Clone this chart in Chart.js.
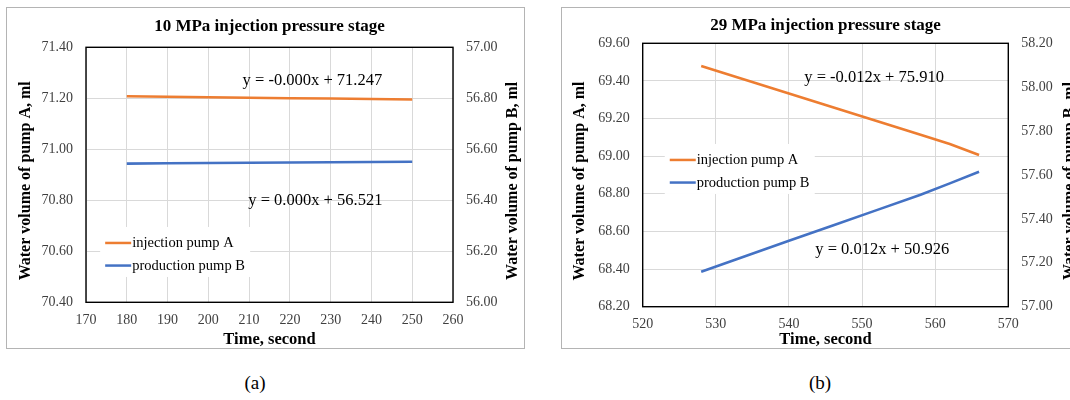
<!DOCTYPE html>
<html>
<head>
<meta charset="utf-8">
<title>Pump water volume during injection pressure stages</title>
<script src="https://cdn.jsdelivr.net/npm/chart.js@4.4.1/dist/chart.umd.min.js"></script>
<style>
  html, body { margin: 0; padding: 0; background: #fff; width: 1070px; height: 400px; overflow: hidden; position: relative; }
  .panel { position: absolute; top: 7px; height: 340px; border: 1px solid #b4b4b4; background: #fff; overflow: hidden; }
  #panelA { left: 6px; width: 517px; }
  #panelB { left: 561px; width: 530px; }
  .panel canvas { display: block; }
  .cap { position: absolute; top: 372px; width: 60px; text-align: center;
         font: 19px 'Liberation Serif', 'Times New Roman', serif; color: #000; }
</style>
</head>
<body>
<div class="panel" id="panelA"><canvas id="chartA" width="517" height="340"></canvas></div>
<div class="panel" id="panelB"><canvas id="chartB" width="530" height="340"></canvas></div>
<div class="cap" style="left:225px">(a)</div>
<div class="cap" style="left:790px">(b)</div>

<script>
// ---- data -------------------------------------------------------------
const seriesNames = ['injection pump A', 'production pump B'];
const stageTitles = ['10 MPa injection pressure stage', '29 MPa injection pressure stage'];
const axisTitleA = 'Water volume of pump A, ml';
const axisTitleB = 'Water volume of pump B, ml';
const axisTitleTime = 'Time, second';

// 10 MPa stage
const time10 = [180, 190, 200, 210, 220, 230, 240, 250];
const pumpA10 = [71.208, 71.206, 71.204, 71.202, 71.200, 71.199, 71.197, 71.195];
const pumpB10 = [56.544, 56.545, 56.546, 56.547, 56.548, 56.549, 56.550, 56.551];
const fit10 = ['y = -0.000x + 71.247', 'y = 0.000x + 56.521'];
const timeTicks10 = [170, 180, 190, 200, 210, 220, 230, 240, 250, 260];
const volATicks10 = [70.40, 70.60, 70.80, 71.00, 71.20, 71.40];
const volBTicks10 = [56.00, 56.20, 56.40, 56.60, 56.80, 57.00];

// 29 MPa stage
const time29 = [528, 534, 540, 546, 552, 558, 562, 566];
const pumpA29 = [69.479, 69.406, 69.333, 69.260, 69.187, 69.114, 69.065, 69.006];
const pumpB29 = [57.159, 57.230, 57.300, 57.370, 57.440, 57.510, 57.562, 57.615];
const fit29 = ['y = -0.012x + 75.910', 'y = 0.012x + 50.926'];
const timeTicks29 = [520, 530, 540, 550, 560, 570];
const volATicks29 = [68.20, 68.40, 68.60, 68.80, 69.00, 69.20, 69.40, 69.60];
const volBTicks29 = [57.00, 57.20, 57.40, 57.60, 57.80, 58.00, 58.20];

// ---- styling ----------------------------------------------------------
const SERIF = "'Liberation Serif', 'Times New Roman', serif";
const ORANGE = '#ED7D31';
const BLUE = '#4472C4';
const GRID = '#d9d9d9';
const TICK_COLOR = '#3f3f3f';

const pairs = (xs, ys) => xs.map((x, i) => ({ x, y: ys[i] }));
const fixedTicks = list => scale => { scale.ticks = list.map(v => ({ value: v })); };

// Frame, titles, legend and trend-line equations drawn on top of the plot
const stageDecor = {
  id: 'stageDecor',
  afterDatasetsDraw(chart, args, o) {
    const { ctx, scales } = chart;
    const lx = scales.x.getPixelForValue(o.legend.x);
    const ly = scales.y.getPixelForValue(o.legend.y);
    ctx.save();
    ctx.fillStyle = '#fff';
    ctx.fillRect(lx - 5, ly - 16, 150, 50);
    ctx.font = `14.5px ${SERIF}`;
    ctx.textAlign = 'left';
    ctx.textBaseline = 'middle';
    chart.data.datasets.forEach((ds, i) => {
      const yy = ly + i * 22.6;
      ctx.strokeStyle = ds.borderColor;
      ctx.lineWidth = 2.5;
      ctx.beginPath();
      ctx.moveTo(lx, yy);
      ctx.lineTo(lx + 26, yy);
      ctx.stroke();
      ctx.fillStyle = '#000';
      ctx.fillText(ds.label, lx + 27, yy + 0.5);
    });
    ctx.restore();
  },
  afterDraw(chart, args, o) {
    const { ctx, chartArea: ca, scales } = chart;
    ctx.save();
    // plot frame
    ctx.strokeStyle = '#000';
    ctx.lineWidth = 1.4;
    ctx.strokeRect(ca.left, ca.top, ca.right - ca.left, ca.bottom - ca.top);

    ctx.fillStyle = '#000';
    ctx.textAlign = 'center';
    ctx.textBaseline = 'middle';
    const cx = (ca.left + ca.right) / 2;
    const cy = (ca.top + ca.bottom) / 2;

    // chart title
    ctx.font = `bold 17px ${SERIF}`;
    ctx.fillText(o.title, cx, o.titleY);

    // x axis title
    ctx.font = `bold 16.5px ${SERIF}`;
    ctx.fillText(axisTitleTime, cx, o.xTitleY);

    // y axis titles (rotated)
    ctx.font = `bold 16px ${SERIF}`;
    [[o.yTitleX, axisTitleA], [o.y1TitleX, axisTitleB]].forEach(([x, txt]) => {
      ctx.save();
      ctx.translate(x, cy + o.yTitleShift);
      ctx.rotate(-Math.PI / 2);
      ctx.fillText(txt, 0, 0);
      ctx.restore();
    });

    // trend-line equations
    ctx.font = `16.5px ${SERIF}`;
    ctx.textAlign = 'left';
    o.equations.forEach(eq => {
      ctx.fillText(eq.text, scales.x.getPixelForValue(eq.x), scales.y.getPixelForValue(eq.y));
    });
    ctx.restore();
  }
};

function makeStage(canvasId, cfg) {
  return new Chart(document.getElementById(canvasId), {
    type: 'line',
    data: {
      datasets: [
        { label: seriesNames[0], data: pairs(cfg.time, cfg.pumpA), yAxisID: 'y',
          borderColor: ORANGE, backgroundColor: ORANGE, borderWidth: 2.6, pointRadius: 0, tension: 0 },
        { label: seriesNames[1], data: pairs(cfg.time, cfg.pumpB), yAxisID: 'y1',
          borderColor: BLUE, backgroundColor: BLUE, borderWidth: 2.6, pointRadius: 0, tension: 0 }
      ]
    },
    options: {
      responsive: false,
      animation: false,
      layout: { padding: { top: cfg.padTop, left: 0, right: 0, bottom: 0 } },
      plugins: {
        legend: { display: false },
        title: { display: false },
        tooltip: { enabled: false },
        stageDecor: cfg.decor
      },
      scales: {
        x: {
          type: 'linear',
          min: cfg.timeTicks[0], max: cfg.timeTicks[cfg.timeTicks.length - 1],
          afterBuildTicks: fixedTicks(cfg.timeTicks),
          afterFit: s => { s.height = cfg.xHeight; },
          grid: { color: GRID, lineWidth: 1, drawTicks: false },
          border: { display: false },
          ticks: { padding: 9.5, color: TICK_COLOR, font: { family: SERIF, size: 14 },
                   autoSkip: false, maxRotation: 0, callback: v => String(v) }
        },
        y: {
          position: 'left',
          min: cfg.volATicks[0], max: cfg.volATicks[cfg.volATicks.length - 1],
          afterBuildTicks: fixedTicks(cfg.volATicks),
          afterFit: s => { s.width = cfg.yWidth; },
          grid: { color: GRID, lineWidth: 1, drawTicks: false },
          border: { display: false },
          ticks: { padding: 13, color: TICK_COLOR, font: { family: SERIF, size: 14 },
                   callback: v => Number(v).toFixed(2) }
        },
        y1: {
          position: 'right',
          min: cfg.volBTicks[0], max: cfg.volBTicks[cfg.volBTicks.length - 1],
          afterBuildTicks: fixedTicks(cfg.volBTicks),
          afterFit: s => { s.width = cfg.y1Width; },
          grid: { display: false, drawTicks: false },
          border: { display: false },
          ticks: { padding: 13, color: TICK_COLOR, font: { family: SERIF, size: 14 },
                   callback: v => Number(v).toFixed(2) }
        }
      }
    },
    plugins: [stageDecor]
  });
}

makeStage('chartA', {
  time: time10, pumpA: pumpA10, pumpB: pumpB10,
  timeTicks: timeTicks10, volATicks: volATicks10, volBTicks: volBTicks10,
  padTop: 39.3, xHeight: 45.7, yWidth: 79, y1Width: 71,
  decor: {
    title: stageTitles[0], titleY: 18.7, xTitleY: 332,
    yTitleX: 18.5, y1TitleX: 506, yTitleShift: 6,
    legend: { x: 174.7, y: 70.6327 },
    equations: [
      { text: fit10[0], x: 208.4, y: 71.268 },
      { text: fit10[1], x: 209.8, y: 70.797 }
    ]
  }
});

makeStage('chartB', {
  time: time29, pumpA: pumpA29, pumpB: pumpB29,
  timeTicks: timeTicks29, volATicks: volATicks29, volBTicks: volBTicks29,
  padTop: 35.3, xHeight: 41.3, yWidth: 80.7, y1Width: 83.7,
  decor: {
    title: stageTitles[1], titleY: 17.7, xTitleY: 331.5,
    yTitleX: 18, y1TitleX: 508, yTitleShift: 6,
    legend: { x: 523.7, y: 68.980 },
    equations: [
      { text: fit29[0], x: 542.1, y: 69.417 },
      { text: fit29[1], x: 543.6, y: 68.505 }
    ]
  }
});
</script>
</body>
</html>
